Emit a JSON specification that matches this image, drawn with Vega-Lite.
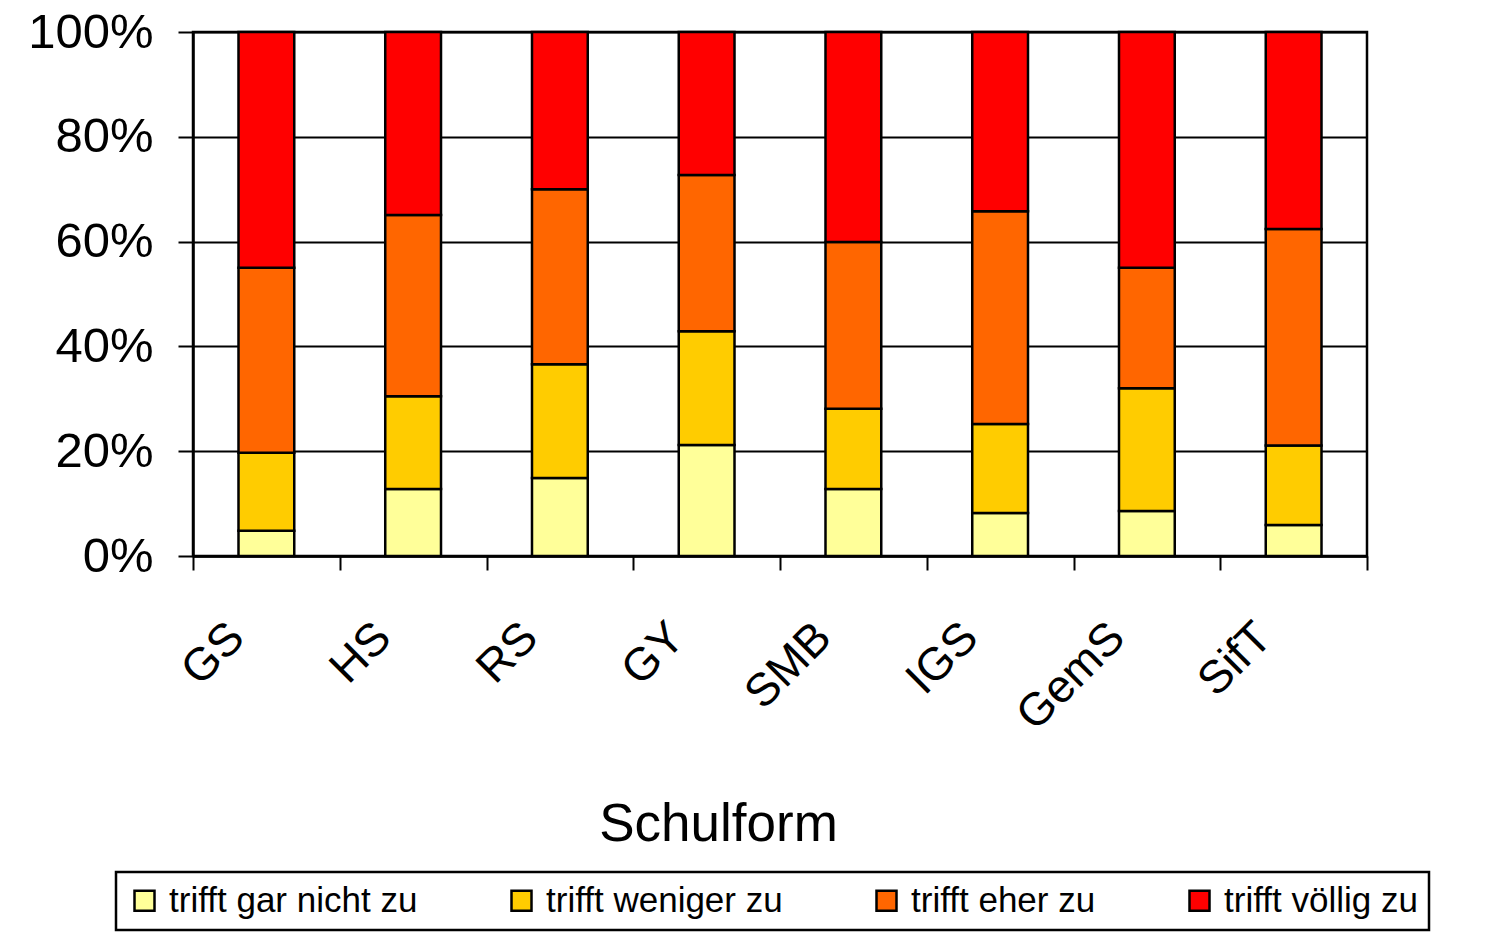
{
  "$schema": "https://vega.github.io/schema/vega-lite/v6.json",
  "width": 1174,
  "height": 524,
  "autosize": {"type": "none"},
  "padding": {"left": 193, "top": 32, "right": 121, "bottom": 377},
  "background": "white",
  "config": {
    "view": {"stroke": "black", "strokeWidth": 2.5},
    "font": "Liberation Sans",
    "axis": {
      "domainColor": "black",
      "tickColor": "black",
      "gridColor": "black",
      "labelColor": "black",
      "titleColor": "black",
      "labelFont": "Liberation Sans",
      "titleFont": "Liberation Sans"
    },
    "legend": {"strokeColor": "black", "strokeWidth": 2.5, "fillColor": "white"}
  },
  "data": {
    "values": [
      {"Schulform": "GS", "Antwort": "trifft gar nicht zu", "o": 1, "value": 4.8},
      {"Schulform": "GS", "Antwort": "trifft weniger zu", "o": 2, "value": 14.9},
      {"Schulform": "GS", "Antwort": "trifft eher zu", "o": 3, "value": 35.3},
      {"Schulform": "GS", "Antwort": "trifft völlig zu", "o": 4, "value": 45.0},
      {"Schulform": "HS", "Antwort": "trifft gar nicht zu", "o": 1, "value": 12.8},
      {"Schulform": "HS", "Antwort": "trifft weniger zu", "o": 2, "value": 17.7},
      {"Schulform": "HS", "Antwort": "trifft eher zu", "o": 3, "value": 34.6},
      {"Schulform": "HS", "Antwort": "trifft völlig zu", "o": 4, "value": 34.9},
      {"Schulform": "RS", "Antwort": "trifft gar nicht zu", "o": 1, "value": 14.9},
      {"Schulform": "RS", "Antwort": "trifft weniger zu", "o": 2, "value": 21.7},
      {"Schulform": "RS", "Antwort": "trifft eher zu", "o": 3, "value": 33.4},
      {"Schulform": "RS", "Antwort": "trifft völlig zu", "o": 4, "value": 30.0},
      {"Schulform": "GY", "Antwort": "trifft gar nicht zu", "o": 1, "value": 21.2},
      {"Schulform": "GY", "Antwort": "trifft weniger zu", "o": 2, "value": 21.7},
      {"Schulform": "GY", "Antwort": "trifft eher zu", "o": 3, "value": 29.8},
      {"Schulform": "GY", "Antwort": "trifft völlig zu", "o": 4, "value": 27.3},
      {"Schulform": "SMB", "Antwort": "trifft gar nicht zu", "o": 1, "value": 12.8},
      {"Schulform": "SMB", "Antwort": "trifft weniger zu", "o": 2, "value": 15.3},
      {"Schulform": "SMB", "Antwort": "trifft eher zu", "o": 3, "value": 31.8},
      {"Schulform": "SMB", "Antwort": "trifft völlig zu", "o": 4, "value": 40.1},
      {"Schulform": "IGS", "Antwort": "trifft gar nicht zu", "o": 1, "value": 8.2},
      {"Schulform": "IGS", "Antwort": "trifft weniger zu", "o": 2, "value": 17.0},
      {"Schulform": "IGS", "Antwort": "trifft eher zu", "o": 3, "value": 40.6},
      {"Schulform": "IGS", "Antwort": "trifft völlig zu", "o": 4, "value": 34.2},
      {"Schulform": "GemS", "Antwort": "trifft gar nicht zu", "o": 1, "value": 8.6},
      {"Schulform": "GemS", "Antwort": "trifft weniger zu", "o": 2, "value": 23.4},
      {"Schulform": "GemS", "Antwort": "trifft eher zu", "o": 3, "value": 23.0},
      {"Schulform": "GemS", "Antwort": "trifft völlig zu", "o": 4, "value": 45.0},
      {"Schulform": "SifT", "Antwort": "trifft gar nicht zu", "o": 1, "value": 5.9},
      {"Schulform": "SifT", "Antwort": "trifft weniger zu", "o": 2, "value": 15.2},
      {"Schulform": "SifT", "Antwort": "trifft eher zu", "o": 3, "value": 41.3},
      {"Schulform": "SifT", "Antwort": "trifft völlig zu", "o": 4, "value": 37.6}
    ]
  },
  "mark": {"type": "bar", "stroke": "black", "strokeWidth": 2.5, "width": {"band": 0.38}},
  "encoding": {
    "x": {
      "field": "Schulform",
      "type": "nominal",
      "sort": ["GS", "HS", "RS", "GY", "SMB", "IGS", "GemS", "SifT"],
      "scale": {"paddingInner": 0, "paddingOuter": 0},
      "axis": {
        "title": "Schulform",
        "labelAngle": -45,
        "labelAlign": "right",
        "labelBaseline": "middle",
        "labelFontSize": 46,
        "labelPadding": 60,
        "labelOffset": -30,
        "labelOverlap": false,
        "labelBound": false,
        "tickBand": "extent",
        "tickSize": 14,
        "tickWidth": 2,
        "domainWidth": 2.5,
        "grid": false,
        "titleFontSize": 53,
        "titleFontWeight": "normal",
        "titleX": 525,
        "titleY": 284,
        "titleAlign": "center",
        "titleBaseline": "alphabetic"
      }
    },
    "y": {
      "field": "value",
      "type": "quantitative",
      "stack": "zero",
      "scale": {"domain": [0, 100], "nice": false},
      "axis": {
        "title": null,
        "values": [0, 20, 40, 60, 80, 100],
        "labelExpr": "datum.value + '%'",
        "labelFontSize": 49,
        "labelPadding": 25,
        "tickSize": 15,
        "tickWidth": 2,
        "gridWidth": 2,
        "domainWidth": 2.5
      }
    },
    "color": {
      "field": "Antwort",
      "type": "nominal",
      "scale": {
        "domain": ["trifft gar nicht zu", "trifft weniger zu", "trifft eher zu", "trifft völlig zu"],
        "range": ["#FFFF99", "#FFCC00", "#FF6600", "#FF0000"]
      },
      "legend": {
        "orient": "none",
        "direction": "horizontal",
        "legendX": -77,
        "legendY": 840,
        "title": null,
        "labelFontSize": 35,
        "labelFont": "Liberation Sans",
        "labelColor": "black",
        "labelLimit": 0,
        "symbolType": "square",
        "symbolSize": 400,
        "symbolStrokeColor": "black",
        "symbolStrokeWidth": 2.5,
        "symbolOpacity": 1,
        "labelOffset": 7,
        "columnPadding": 86,
        "padding": 11,
        "strokeColor": "black",
        "fillColor": "white"
      }
    },
    "order": {"field": "o", "type": "quantitative"}
  }
}
